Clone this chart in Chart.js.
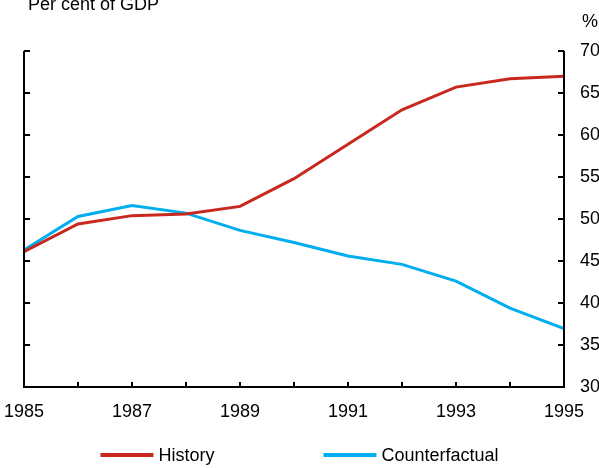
<!DOCTYPE html>
<html>
<head>
<meta charset="utf-8">
<script src="https://cdn.jsdelivr.net/npm/chart.js@4.4.1/dist/chart.umd.min.js"></script>
<style>
    html, body { margin: 0; padding: 0; background: #ffffff; }
    #wrap { width: 599px; height: 468px; position: relative; }
</style>
</head>
<body>
<div id="wrap"><canvas id="grafico"></canvas></div>
<script>
var anos = [1985, 1986, 1987, 1988, 1989, 1990, 1991, 1992, 1993, 1994, 1995];
var historia = [46.1, 49.4, 50.4, 50.6, 51.5, 54.8, 58.9, 63.0, 65.7, 66.7, 67.0];
var contrafactual = [46.3, 50.3, 51.6, 50.7, 48.65, 47.2, 45.6, 44.6, 42.6, 39.4, 36.95];
var nomesSeries = ['History', 'Counterfactual'];
var coresSeries = ['#c8281e', '#00aeef'];
var ticksY = [30, 35, 40, 45, 50, 55, 60, 65, 70];
var tituloEsq = 'Per cent of GDP';
var tituloDir = '%';

var fonte = '"Liberation Sans", Arial, sans-serif';

function pontos(valores) {
    return anos.map(function (ano, i) { return { x: ano, y: valores[i] }; });
}

// moldura, ticks para dentro, textos e legenda
var molduraPlugin = {
    id: 'moldura',
    afterDraw: function (chart) {
        var ctx = chart.ctx;
        var area = chart.chartArea;
        var sx = chart.scales.x;
        var sy = chart.scales.y;
        ctx.save();
        ctx.strokeStyle = '#000000';
        ctx.lineWidth = 2;
        ctx.beginPath();
        ctx.moveTo(area.left, sy.getPixelForValue(70));
        ctx.lineTo(area.left, area.bottom);
        ctx.lineTo(area.right, area.bottom);
        ctx.lineTo(area.right, sy.getPixelForValue(70));
        ctx.stroke();

        ctx.beginPath();
        ticksY.forEach(function (v) {
            var py = sy.getPixelForValue(v);
            ctx.moveTo(area.left, py);
            ctx.lineTo(area.left + 6, py);
            ctx.moveTo(area.right, py);
            ctx.lineTo(area.right - 6, py);
        });
        anos.forEach(function (ano) {
            var px = sx.getPixelForValue(ano);
            ctx.moveTo(px, area.bottom);
            ctx.lineTo(px, area.bottom - 5);
        });
        ctx.stroke();

        ctx.fillStyle = '#000000';
        ctx.font = '18px ' + fonte;
        ctx.textBaseline = 'alphabetic';
        ctx.textAlign = 'left';
        ctx.fillText(tituloEsq, area.left + 4, 10);
        ctx.fillText(tituloDir, area.right + 18, 27);

        // legenda
        var linha = 53, espaco = 5, intervalo = 109;
        var larguras = nomesSeries.map(function (n) { return ctx.measureText(n).width; });
        var total = larguras[0] + larguras[1] + 2 * (linha + espaco) + intervalo;
        var x = (chart.width - total) / 2;
        var yLeg = 455;
        nomesSeries.forEach(function (nome, i) {
            ctx.strokeStyle = coresSeries[i];
            ctx.lineWidth = 4;
            ctx.beginPath();
            ctx.moveTo(x, yLeg);
            ctx.lineTo(x + linha, yLeg);
            ctx.stroke();
            ctx.textBaseline = 'middle';
            ctx.fillText(nome, x + linha + espaco, yLeg + 1);
            x += linha + espaco + larguras[i] + intervalo;
        });
        ctx.restore();
    }
};

var ctx = document.getElementById('grafico').getContext('2d');
window.grafico = new Chart(ctx, {
    type: 'line',
    data: {
        datasets: [{
            label: nomesSeries[0],
            data: pontos(historia),
            borderColor: coresSeries[0],
            backgroundColor: coresSeries[0],
            borderWidth: 3,
            pointRadius: 0,
            tension: 0
        }, {
            label: nomesSeries[1],
            data: pontos(contrafactual),
            borderColor: coresSeries[1],
            backgroundColor: coresSeries[1],
            borderWidth: 3,
            pointRadius: 0,
            tension: 0
        }]
    },
    options: {
        responsive: true,
        maintainAspectRatio: false,
        animation: false,
        layout: {
            padding: { left: 24, right: 0, top: 51, bottom: 40 }
        },
        scales: {
            x: {
                type: 'linear',
                min: 1985,
                max: 1995,
                grid: { display: false, drawTicks: false },
                border: { display: false },
                afterFit: function (scale) {
                    scale.height = 41;
                    scale.paddingLeft = 0;
                    scale.paddingRight = 0;
                },
                ticks: {
                    stepSize: 1,
                    autoSkip: false,
                    maxRotation: 0,
                    padding: 14,
                    color: '#000000',
                    font: { family: fonte, size: 18 },
                    callback: function (valor) { return valor % 2 === 1 ? String(valor) : ''; }
                }
            },
            y: {
                position: 'right',
                min: 30,
                max: 70,
                grid: { display: false, drawTicks: false },
                border: { display: false },
                afterFit: function (scale) {
                    scale.width = 35;
                    scale.paddingTop = 0;
                    scale.paddingBottom = 0;
                },
                ticks: {
                    stepSize: 5,
                    padding: 16,
                    color: '#000000',
                    font: { family: fonte, size: 18 }
                }
            }
        },
        plugins: {
            legend: { display: false },
            tooltip: { enabled: false }
        }
    },
    plugins: [molduraPlugin]
});
</script>
</body>
</html>
